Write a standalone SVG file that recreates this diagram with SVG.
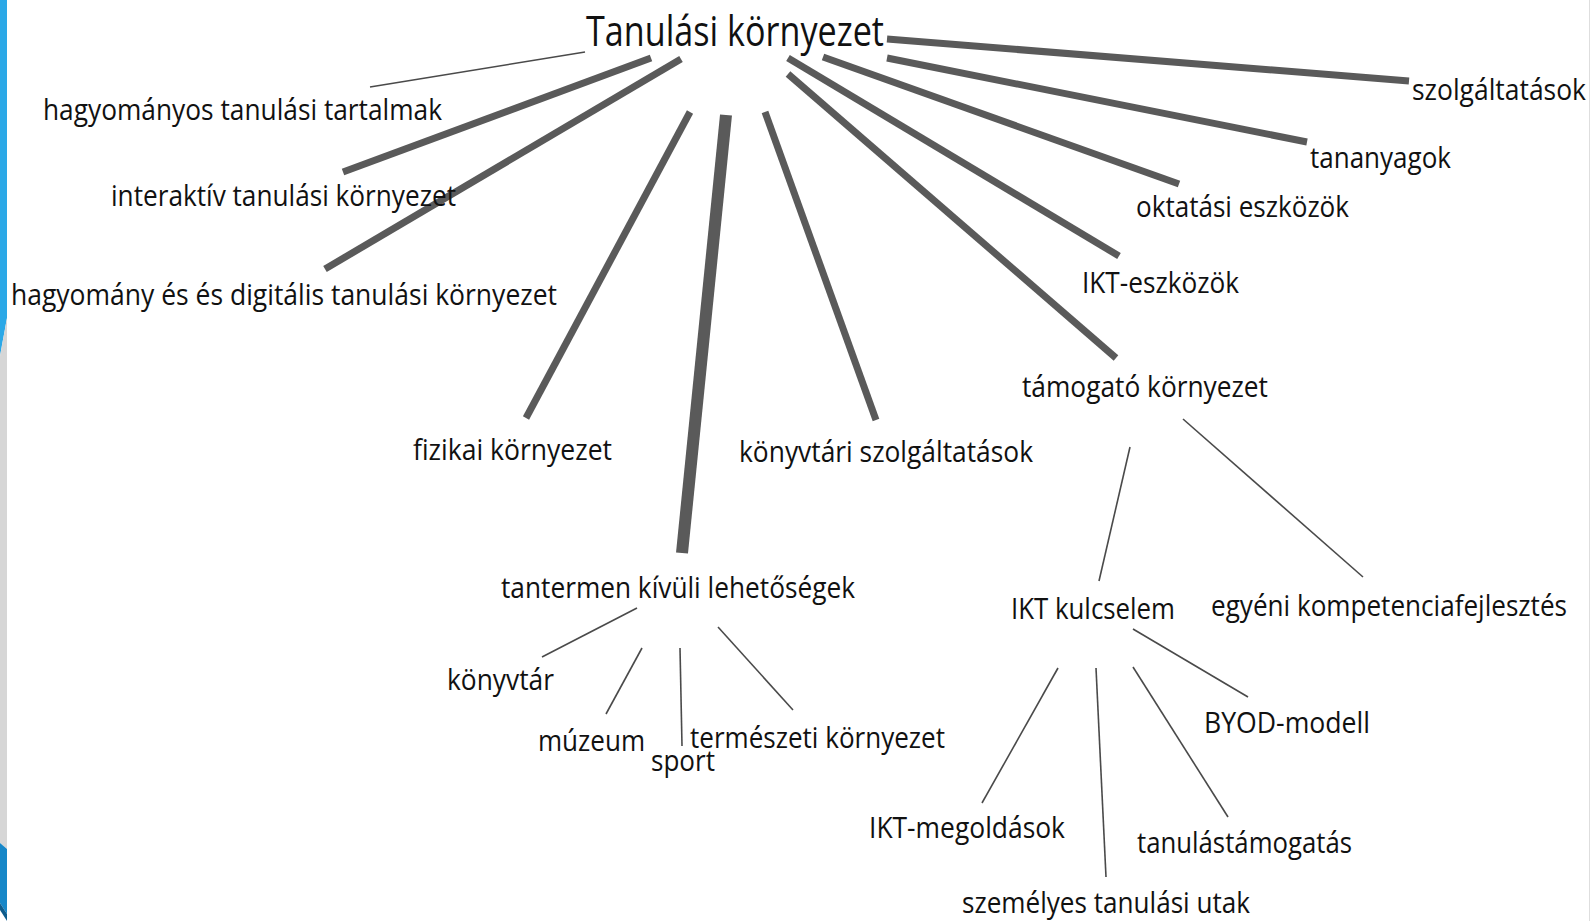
<svg xmlns="http://www.w3.org/2000/svg" width="1591" height="921" viewBox="0 0 1591 921">
  <style>
    text { font-family: "Open Sans", "Noto Sans", "DejaVu Sans", sans-serif; font-size: 29px; fill: #111; }
    .title { font-size: 42px; }
    .thick { stroke: #5a5a5a; stroke-width: 7; stroke-linecap: butt; fill: none; }
    .heavy { stroke: #5a5a5a; stroke-width: 12; stroke-linecap: butt; fill: none; }
    .thin { stroke: #4a4a4a; stroke-width: 1.6; stroke-linecap: butt; fill: none; }
  </style>

  <!-- page background and side decoration -->
  <rect x="0" y="0" width="1591" height="921" fill="#ffffff"/>
  <g id="side-band">
    <polygon points="0,0 7,0 7,318 0,356" fill="#2ba8e7"/>
    <polygon points="0,356 7,318 7,849 0,843" fill="#d6d6d6"/>
    <polygon points="0,843 7,849 7,914 0,903" fill="#1787c8"/>
    <polygon points="0,903 7,914 7,921 0,910" fill="#0e5c8c"/>
    <line x1="1589.5" y1="0" x2="1589.5" y2="921" stroke="#dedede" stroke-width="1"/>
  </g>

  <!-- connectors -->
  <g id="connectors">
    <!-- from the central topic -->
    <line class="thin" x1="585" y1="52" x2="370" y2="87" stroke-width="2"/>
    <line class="thick" x1="651" y1="58" x2="343" y2="172" stroke-width="8"/>
    <line class="thick" x1="681" y1="59" x2="325" y2="269"/>
    <line class="thick" x1="690" y1="112" x2="526" y2="418"/>
    <line class="heavy" x1="726" y1="115" x2="682" y2="553"/>
    <line class="thick" x1="765" y1="112" x2="876" y2="420"/>
    <line class="thick" x1="788" y1="74" x2="1116" y2="358"/>
    <line class="thick" x1="788" y1="58" x2="1119" y2="256"/>
    <line class="thick" x1="823" y1="57" x2="1179" y2="184"/>
    <line class="thick" x1="887" y1="58" x2="1307" y2="142"/>
    <line class="thick" x1="887" y1="39" x2="1409" y2="81"/>
    <!-- támogató környezet -->
    <line class="thin" x1="1130" y1="447" x2="1099" y2="581"/>
    <line class="thin" x1="1183" y1="419" x2="1363" y2="577"/>
    <!-- tantermen kívüli lehetőségek -->
    <line class="thin" x1="637" y1="608" x2="542" y2="657"/>
    <line class="thin" x1="642" y1="648" x2="606" y2="714"/>
    <line class="thin" x1="680" y1="648" x2="682" y2="746"/>
    <line class="thin" x1="718" y1="627" x2="793" y2="710"/>
    <!-- IKT kulcselem -->
    <line class="thin" x1="1133" y1="629" x2="1248" y2="697"/>
    <line class="thin" x1="1058" y1="668" x2="982" y2="803"/>
    <line class="thin" x1="1096" y1="668" x2="1106" y2="877"/>
    <line class="thin" x1="1133" y1="667" x2="1228" y2="817"/>
  </g>

  <!-- nodes -->
  <g id="node-tanulasi-kornyezet"><text class="title" x="586" y="46" textLength="298" lengthAdjust="spacingAndGlyphs">Tanulási környezet</text></g>
  <g id="node-hagyomanyos-tartalmak"><text x="43" y="120" textLength="399" lengthAdjust="spacingAndGlyphs">hagyományos tanulási tartalmak</text></g>
  <g id="node-interaktiv"><text x="111" y="206" textLength="345" lengthAdjust="spacingAndGlyphs">interaktív tanulási környezet</text></g>
  <g id="node-hagyomany-digitalis"><text x="11" y="305" textLength="546" lengthAdjust="spacingAndGlyphs">hagyomány és és digitális tanulási környezet</text></g>
  <g id="node-fizikai"><text x="413" y="460" textLength="199" lengthAdjust="spacingAndGlyphs">fizikai környezet</text></g>
  <g id="node-konyvtari-szolg"><text x="739" y="462" textLength="294" lengthAdjust="spacingAndGlyphs">könyvtári szolgáltatások</text></g>
  <g id="node-tamogato"><text x="1022" y="397" textLength="246" lengthAdjust="spacingAndGlyphs">támogató környezet</text></g>
  <g id="node-ikt-eszkozok"><text x="1082" y="293" textLength="157" lengthAdjust="spacingAndGlyphs">IKT-eszközök</text></g>
  <g id="node-oktatasi-eszkozok"><text x="1136" y="217" textLength="213" lengthAdjust="spacingAndGlyphs">oktatási eszközök</text></g>
  <g id="node-tananyagok"><text x="1310" y="168" textLength="141" lengthAdjust="spacingAndGlyphs">tananyagok</text></g>
  <g id="node-szolgaltatasok"><text x="1412" y="100" textLength="174" lengthAdjust="spacingAndGlyphs">szolgáltatások</text></g>
  <g id="node-tantermen-kivuli"><text x="501" y="598" textLength="354" lengthAdjust="spacingAndGlyphs">tantermen kívüli lehetőségek</text></g>
  <g id="node-konyvtar"><text x="447" y="690" textLength="107" lengthAdjust="spacingAndGlyphs">könyvtár</text></g>
  <g id="node-muzeum"><text x="538" y="751" textLength="107" lengthAdjust="spacingAndGlyphs">múzeum</text></g>
  <g id="node-sport"><text x="651" y="771" textLength="64" lengthAdjust="spacingAndGlyphs">sport</text></g>
  <g id="node-termeszeti"><text x="690" y="748" textLength="255" lengthAdjust="spacingAndGlyphs">természeti környezet</text></g>
  <g id="node-ikt-kulcselem"><text x="1011" y="619" textLength="164" lengthAdjust="spacingAndGlyphs">IKT kulcselem</text></g>
  <g id="node-egyeni"><text x="1211" y="616" textLength="356" lengthAdjust="spacingAndGlyphs">egyéni kompetenciafejlesztés</text></g>
  <g id="node-byod"><text x="1204" y="733" textLength="166" lengthAdjust="spacingAndGlyphs">BYOD-modell</text></g>
  <g id="node-ikt-megoldasok"><text x="869" y="838" textLength="196" lengthAdjust="spacingAndGlyphs">IKT-megoldások</text></g>
  <g id="node-tanulastamogatas"><text x="1137" y="853" textLength="215" lengthAdjust="spacingAndGlyphs">tanulástámogatás</text></g>
  <g id="node-szemelyes-utak"><text x="962" y="913" textLength="288" lengthAdjust="spacingAndGlyphs">személyes tanulási utak</text></g>
</svg>
